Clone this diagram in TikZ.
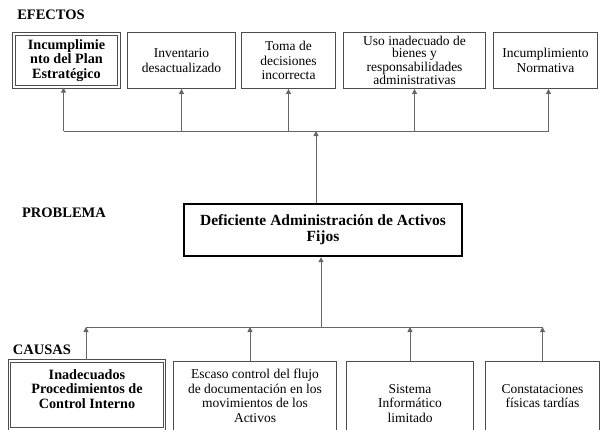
\documentclass[tikz,border=0pt]{standalone}
\usepackage{fontspec}
\setmainfont{Liberation Serif}
\usetikzlibrary{arrows.meta,positioning}
\tikzset{
  plainbox/.style={ draw=black!70, line width=0.9pt, align=center, inner sep=1pt,
    font=\fontsize{13.5}{14.5}\selectfont }
}
\tikzset{
  dblbox/.style={ plainbox, line width=1.3pt, double, double distance=1.2pt,
    font=\fontsize{14.2}{14.8}\selectfont\bfseries }
}
\tikzset{
  probbox/.style={ draw=black, line width=2.4pt, align=center, inner sep=1pt,
    font=\fontsize{15.5}{16}\selectfont\bfseries }
}
\tikzset{
  seclbl/.style={ font=\fontsize{14.5}{15}\selectfont\bfseries, inner sep=0pt }
}
\tikzset{
  bus/.style={ draw=black!60, line width=1pt },
  arr/.style={ bus, -{Triangle[width=5pt,length=5pt]} }
}

\begin{document}
\begin{tikzpicture}[x=1pt,y=-1pt]
  \useasboundingbox (0,0) rectangle (600,429);
  \clip (0,0) rectangle (600,429);

  \node[seclbl] (lblEf) at (51,15) {EFECTOS};
  \node[seclbl] (lblProb) at (64,213) {PROBLEMA};
  \node[seclbl] (lblCaus) at (42,350) {CAUSAS};

  % efectos
  \node[dblbox, minimum width=105pt, minimum height=53pt] (efPlan) at (66.5,60.5) {Incumplimie\\nto del Plan\\Estratégico};
  \node[plainbox, minimum width=108pt, minimum height=56pt] (efInv) at (181.5,60.5) {Inventario\\desactualizado};
  \node[plainbox, minimum width=94pt, minimum height=56pt] (efDec) at (288.5,60.5) {Toma de\\decisiones\\incorrecta};
  \node[plainbox, minimum width=142pt, minimum height=56pt, font=\fontsize{13.5}{12}\selectfont] (efUso) at (414.5,60.5) {Uso inadecuado de\\bienes y\\responsabilidades\\administrativas};
  \node[plainbox, minimum width=104pt, minimum height=56pt] (efNorm) at (545.5,60.5) {Incumplimiento\\Normativa};

  % problema
  \node[probbox, minimum width=278pt, minimum height=52pt] (prob) at (323,230) {Deficiente Administración de Activos\\Fijos};

  % causas
  \node[dblbox, minimum width=155pt, minimum height=68pt, text depth=12pt] (caProc) at (87,395) {Inadecuados\\Procedimientos de\\Control Interno};
  \node[plainbox, minimum width=163pt, minimum height=70pt] (caDoc) at (255,396) {Escaso control del flujo\\de documentación en los\\movimientos de los\\Activos};
  \node[plainbox, minimum width=127pt, minimum height=70pt, text height=53pt] (caSis) at (410,396) {Sistema\\Informático\\limitado};
  \node[plainbox, minimum width=114pt, minimum height=70pt] (caCons) at (542.5,396) {Constataciones\\físicas tardías};

  \coordinate (topbus) at (0,131);
  \coordinate (botbus) at (0,327);

  \draw[bus] ([xshift=-3pt]efPlan.south |- topbus) -- ([xshift=3pt]efNorm.south |- topbus);
  \draw[bus] ([xshift=-1pt]caProc.north |- botbus) -- (caCons.north |- botbus);

  \begin{scope}[arr]
    \draw ([xshift=-3pt]efPlan.south |- topbus) -- ([xshift=-3pt]efPlan.south);
    \draw (efInv.south |- topbus) -- (efInv.south);
    \draw (efDec.south |- topbus) -- (efDec.south);
    \draw (efUso.south |- topbus) -- (efUso.south);
    \draw ([xshift=3pt]efNorm.south |- topbus) -- ([xshift=3pt]efNorm.south);

    \draw ([xshift=-7pt]prob.north) -- ([xshift=-7pt]prob.north |- topbus);
    \draw ([xshift=-2pt]prob.south |- botbus) -- ([xshift=-2pt]prob.south);

    \draw ([xshift=-1pt]caProc.north) -- ([xshift=-1pt]caProc.north |- botbus);
    \draw ([xshift=-5pt]caDoc.north) -- ([xshift=-5pt]caDoc.north |- botbus);
    \draw (caSis.north) -- (caSis.north |- botbus);
    \draw (caCons.north) -- (caCons.north |- botbus);
  \end{scope}
\end{tikzpicture}
\end{document}
